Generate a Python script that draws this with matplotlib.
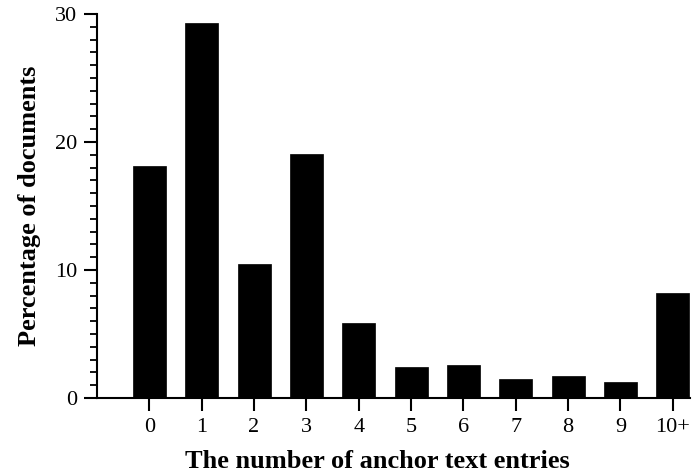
import matplotlib
matplotlib.use("Agg")
import matplotlib.pyplot as plt
from matplotlib.ticker import MultipleLocator

categories = ["0", "1", "2", "3", "4", "5", "6", "7", "8", "9", "10+"]
percent = [18.15, 29.3, 10.45, 19.05, 5.85, 2.45, 2.55, 1.45, 1.75, 1.25, 8.2]

plt.rcParams["font.family"] = ["Liberation Serif", "DejaVu Serif"]

fig = plt.figure(figsize=(6.94, 4.73), dpi=100)
ax = fig.add_axes([97 / 694, 1 - 398 / 473, 593 / 694, 384 / 473])

x = range(len(categories))
ax.bar(x, percent, width=0.63, color="black", edgecolor="black", linewidth=0.5)

ax.set_xlim(-1.0, len(categories) - 1 + 0.33)
ax.set_ylim(0, 30)
ax.set_xticks(list(x))
ax.set_xticklabels(categories)
ax.yaxis.set_major_locator(MultipleLocator(10))
ax.yaxis.set_minor_locator(MultipleLocator(1))

for s in ("top", "right"):
    ax.spines[s].set_visible(False)
for s in ("left", "bottom"):
    ax.spines[s].set_linewidth(1.5)

ax.tick_params(axis="both", which="major", length=9.5, width=1.5, labelsize=16, pad=5)
ax.tick_params(axis="y", which="minor", length=4.7, width=1.3)

ax.set_xlabel("The number of anchor text entries", fontsize=19, fontweight="bold", labelpad=10)
ax.xaxis.set_label_coords(0.472, -0.135)
ax.set_ylabel("Percentage of documents", fontsize=19, fontweight="bold", labelpad=10)

fig.savefig("out.png", dpi=100)
